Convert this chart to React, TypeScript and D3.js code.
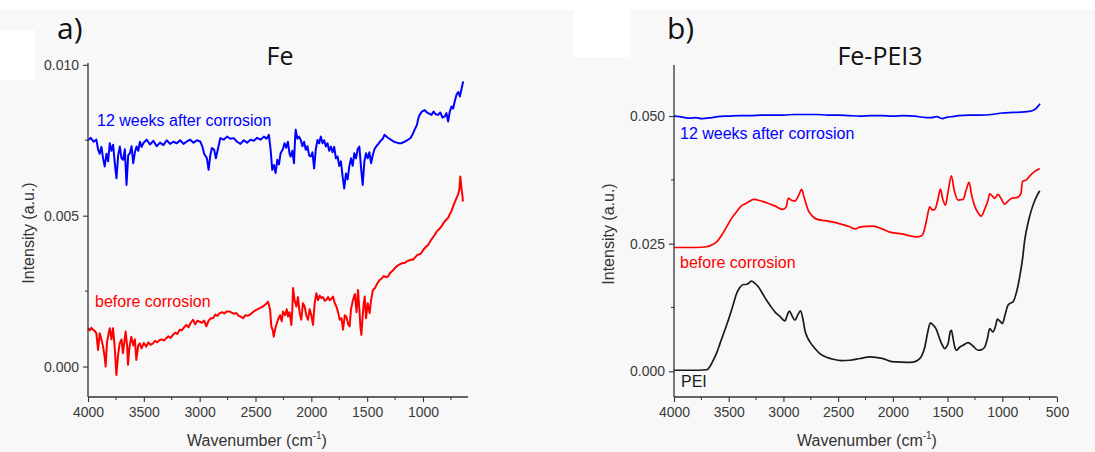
import { useEffect, useRef } from 'react';
import * as d3 from 'd3';

// Panel a) Fe — [wavenumber, intensity]
const feAfter: [number, number][] = [
  [4000, .0075], [3975, .00758], [3950, .00745], [3925, .00752], [3910, .0072], [3895, .00705],
  [3880, .00728], [3865, .0069], [3850, .00663], [3835, .00705], [3820, .0068], [3805, .0074],
  [3790, .00715], [3775, .00735], [3760, .00674], [3745, .00624], [3730, .007], [3715, .00729],
  [3700, .0069], [3685, .00685], [3670, .0072], [3655, .00602], [3640, .007], [3625, .00707],
  [3610, .0073], [3595, .00674], [3580, .0071], [3565, .00729], [3550, .00715], [3535, .00745],
  [3520, .00728], [3505, .0074], [3475, .00752], [3445, .00736], [3415, .00748], [3385, .0073],
  [3355, .00742], [3325, .00734], [3295, .0075], [3265, .00738], [3235, .00745], [3205, .0074],
  [3175, .0075], [3145, .00738], [3115, .00746], [3085, .00752], [3055, .00742], [3025, .0075],
  [2995, .00746], [2975, .00728], [2960, .00705], [2935, .0069], [2920, .00652], [2905, .007],
  [2890, .00724], [2870, .00718], [2855, .0069], [2840, .00715], [2815, .00757], [2785, .00752],
  [2755, .00762], [2725, .00755], [2695, .00757], [2665, .00745], [2635, .00738], [2605, .0075],
  [2575, .00742], [2545, .00752], [2515, .00748], [2485, .00758], [2455, .00752], [2425, .00762],
  [2400, .00755], [2380, .00768], [2365, .0072], [2350, .00652], [2335, .00668], [2320, .00641],
  [2305, .00685], [2290, .0067], [2275, .00707], [2255, .0072], [2240, .0074], [2225, .00725],
  [2210, .00745], [2195, .00705], [2185, .00696], [2170, .00715], [2155, .00674], [2145, .0076],
  [2140, .00785], [2125, .00755], [2110, .00762], [2095, .00751], [2080, .0073], [2065, .00745],
  [2050, .00718], [2035, .0073], [2020, .007], [2005, .00696], [1990, .0071], [1975, .00657],
  [1960, .0072], [1945, .00751], [1930, .0074], [1915, .00762], [1900, .0074], [1885, .0075],
  [1870, .00729], [1855, .0074], [1840, .00715], [1825, .00729], [1810, .0071], [1795, .00728],
  [1780, .0069], [1765, .00696], [1750, .00665], [1735, .0068], [1720, .0063], [1705, .0059],
  [1690, .0064], [1675, .0062], [1660, .00663], [1645, .0069], [1630, .00665], [1615, .00707],
  [1600, .0069], [1585, .0072], [1570, .00729], [1555, .0066], [1540, .00602], [1525, .0068],
  [1510, .00707], [1495, .0069], [1480, .0071], [1465, .00674], [1450, .007], [1435, .0072],
  [1420, .00729], [1400, .00738], [1380, .00748], [1360, .00755], [1345, .00768], [1320, .0076],
  [1300, .00755], [1285, .00751], [1260, .00745], [1235, .00742], [1215, .0074], [1195, .0074],
  [1165, .00745], [1135, .00751], [1110, .00758], [1090, .00772], [1075, .00785], [1055, .008],
  [1040, .00825], [1030, .00834], [1010, .00845], [985, .0085], [965, .00842], [945, .00838],
  [925, .00834], [905, .00845], [885, .00836], [865, .00834], [845, .00842], [825, .00825],
  [805, .00829], [790, .0084], [775, .00812], [760, .00845], [745, .00862], [730, .00855],
  [715, .0088], [700, .00901], [685, .0091], [670, .00895], [655, .0092], [640, .00945],
];

const feBefore: [number, number][] = [
  [4000, .00127], [3985, .0012], [3970, .00128], [3955, .00122], [3940, .00118], [3925, .0011],
  [3910, .00055], [3895, .0011], [3880, .0009], [3865, .00066], [3850, .0003], [3842, 0],
  [3830, .0008], [3815, .0011], [3805, .00127], [3790, .0009], [3776, .00127], [3760, .0006],
  [3746, -.00028], [3730, .0004], [3716, .00077], [3700, .0009], [3687, .00044], [3675, .0008],
  [3663, .00116], [3650, .0007], [3642, .00006], [3630, .0006], [3612, .00099], [3595, .0007],
  [3580, .0009], [3567, .00022], [3550, .0007], [3537, .00077], [3520, .0006], [3500, .00078],
  [3478, .00066], [3460, .0008], [3440, .00072], [3418, .00077], [3400, .00085], [3380, .0008],
  [3358, .00088], [3340, .0009], [3320, .00086], [3299, .00094], [3280, .001], [3260, .00095],
  [3239, .00105], [3220, .00112], [3200, .00108], [3179, .00122], [3160, .0012], [3140, .0013],
  [3120, .00138], [3100, .0013], [3080, .00145], [3060, .00155], [3040, .0014], [3020, .00152],
  [3000, .00149], [2980, .00145], [2960, .00152], [2940, .00133], [2920, .00152], [2900, .0016],
  [2881, .0016], [2860, .00172], [2840, .00168], [2821, .00177], [2800, .0018], [2780, .00176],
  [2760, .00182], [2731, .00182], [2710, .00178], [2690, .00175], [2672, .00177], [2650, .00168],
  [2630, .00165], [2612, .0016], [2590, .0017], [2570, .00168], [2552, .00171], [2530, .00178],
  [2510, .00184], [2493, .00188], [2470, .00192], [2450, .00196], [2433, .00199], [2415, .00205],
  [2400, .0021], [2388, .00215], [2370, .0019], [2358, .00133], [2345, .0012], [2337, .00099],
  [2320, .0013], [2299, .00155], [2280, .0017], [2265, .0015], [2254, .00182], [2235, .0017],
  [2220, .0019], [2209, .00166], [2195, .0018], [2179, .00138], [2170, .0019], [2164, .0026],
  [2150, .0022], [2134, .00199], [2120, .0023], [2105, .0018], [2090, .00155], [2075, .0021],
  [2060, .00199], [2045, .0017], [2030, .00155], [2015, .0019], [2000, .0017], [1985, .00138],
  [1970, .0021], [1955, .00243], [1940, .0022], [1925, .00235], [1910, .00227], [1895, .0023],
  [1880, .00218], [1866, .00221], [1850, .0023], [1835, .0022], [1820, .00225], [1806, .00232],
  [1790, .0021], [1776, .00199], [1760, .0018], [1746, .00155], [1730, .0016], [1716, .00122],
  [1700, .0017], [1687, .00166], [1670, .0014], [1657, .00133], [1645, .0019], [1627, .00221],
  [1610, .0024], [1595, .0018], [1582, .00254], [1570, .0019], [1560, .0013], [1552, .00105],
  [1540, .0017], [1530, .0021], [1522, .00232], [1510, .0016], [1495, .0021], [1478, .00177],
  [1465, .0022], [1448, .00254], [1430, .0026], [1410, .00275], [1388, .00287], [1370, .00292],
  [1350, .003], [1330, .00296], [1314, .00298], [1295, .0031], [1270, .00318], [1255, .00325],
  [1239, .00331], [1220, .00336], [1200, .0034], [1180, .00343], [1164, .00343], [1140, .0035],
  [1120, .00352], [1100, .00355], [1090, .00354], [1070, .00362], [1050, .0037], [1030, .00372],
  [1015, .00376], [995, .00388], [975, .00396], [955, .00403], [935, .00415], [915, .00426],
  [896, .00436], [876, .00448], [856, .00455], [836, .00464], [816, .00476], [796, .00485],
  [776, .00492], [760, .00505], [745, .00515], [731, .0053], [715, .00545], [700, .00558],
  [687, .00569], [675, .00585], [666, .0063], [655, .0059], [648, .0057], [642, .00547],
];

// Panel b) Fe-PEI3
const peiAfter: [number, number][] = [
  [4000, .05], [3950, .0499], [3900, .0497], [3850, .0496], [3800, .0497], [3750, .0495],
  [3700, .0496], [3650, .0497], [3600, .0499], [3500, .05], [3400, .0501], [3300, .0501],
  [3200, .0502], [3100, .0502], [3000, .0502], [2900, .0503], [2800, .0503], [2700, .0503],
  [2600, .0502], [2500, .0502], [2400, .0501], [2300, .05], [2200, .0501], [2100, .0501],
  [2000, .05], [1900, .0501], [1800, .05], [1700, .0497], [1650, .0497], [1600, .0499],
  [1550, .0495], [1500, .0498], [1450, .0499], [1400, .0501], [1300, .0502], [1200, .0502],
  [1100, .0503], [1000, .0506], [900, .0507], [800, .0508], [720, .0511], [690, .0515],
  [670, .052], [655, .0524],
];

const peiBefore: [number, number][] = [
  [4000, .02425], [3800, .02425], [3702, .0244], [3650, .0248], [3610, .02536], [3560, .0268],
  [3519, .0283], [3470, .0301], [3428, .03124], [3380, .0325], [3352, .03275], [3310, .0333],
  [3270, .03366], [3210, .0334], [3154, .033], [3080, .0324], [3002, .0317], [2975, .0322],
  [2956, .0339], [2925, .0335], [2895, .03333], [2860, .0345], [2834, .03562], [2810, .034],
  [2774, .03157], [2740, .0305], [2697, .0298], [2620, .0295], [2545, .02922], [2470, .0288],
  [2393, .0283], [2347, .0279], [2302, .02824], [2240, .0284], [2180, .02843], [2100, .0279],
  [2028, .02725], [1950, .027], [1906, .02686], [1840, .0265], [1784, .02634], [1740, .0265],
  [1715, .0275], [1690, .0298], [1663, .03222], [1640, .0316], [1617, .0317], [1590, .0335],
  [1565, .03569], [1545, .0338], [1520, .03255], [1495, .0352], [1465, .0383], [1440, .0355],
  [1404, .03353], [1380, .0336], [1358, .03366], [1330, .0355], [1303, .037], [1280, .0345],
  [1252, .03235], [1220, .031], [1191, .03039], [1160, .0318], [1130, .0335], [1115, .03477],
  [1090, .0343], [1069, .03386], [1039, .03464], [1010, .0338], [978, .03275], [950, .0333],
  [917, .03386], [880, .034], [856, .03412], [830, .0348], [815, .0372], [780, .0375],
  [750, .03824], [700, .0392], [658, .03974],
];

const peiRef: [number, number][] = [
  [4000, .0002], [3850, .0002], [3702, .0003], [3670, .001], [3641, .00216], [3610, .0036],
  [3580, .00542], [3540, .0078], [3504, .01], [3460, .013], [3428, .01523], [3395, .0165],
  [3367, .017], [3340, .017], [3321, .0172], [3291, .01765], [3260, .0172], [3230, .01654],
  [3190, .0152], [3154, .01392], [3115, .0127], [3078, .01163], [3030, .0107], [2987, .00987],
  [2965, .011], [2945, .0118], [2920, .0108], [2895, .01], [2870, .011], [2843, .01183],
  [2820, .01], [2804, .00804], [2780, .0066], [2758, .00575], [2710, .0044], [2667, .00346],
  [2600, .0027], [2545, .00235], [2470, .0021], [2393, .00216], [2300, .0025], [2210, .00281],
  [2150, .0027], [2089, .00248], [2030, .002], [1967, .00183], [1880, .00175], [1815, .0018],
  [1754, .00248], [1730, .0033], [1708, .00477], [1680, .0078], [1657, .00948], [1630, .009],
  [1602, .00817], [1570, .0062], [1545, .005], [1526, .00444], [1510, .0048], [1495, .00542],
  [1475, .0078], [1465, .00804], [1450, .0065], [1435, .0048], [1419, .00412], [1390, .0047],
  [1358, .0051], [1313, .00562], [1270, .005], [1221, .00412], [1190, .0042], [1160, .00477],
  [1135, .0065], [1115, .00837], [1085, .00771], [1060, .009], [1045, .0102], [1020, .0098],
  [999, .00935], [975, .011], [948, .01294], [920, .0134], [902, .0136], [870, .0155],
  [841, .0185], [815, .022], [795, .02569], [760, .0295], [734, .03157], [700, .0336],
  [658, .03536],
];

const xTicksA = [4000, 3500, 3000, 2500, 2000, 1500, 1000];
const xTicksB = [4000, 3500, 3000, 2500, 2000, 1500, 1000, 500];
const yTicksA = [0, 0.005, 0.01];
const yTicksB = [0, 0.025, 0.05];

const AXIS = '#333';
const FONT = 'Arial, "Liberation Sans", sans-serif';
const TITLE_FONT = '"Open Sans", "Noto Sans", sans-serif';

type Series = { data: [number, number][]; color: string; label: string; lx: number; ly: number };

function drawPanel(
  root: d3.Selection<SVGGElement, unknown, null, undefined>,
  p: {
    left: number; right: number; top: number; bottom: number;
    xDomain: [number, number]; yDomain: [number, number];
    xTicks: number[]; yTicks: number[]; yMinor: number[];
    title: string; titleX: number; tag: string; tagX: number;
    yLabelX: number; xLabelX: number; smooth: boolean;
    series: Series[];
  }
) {
  const x = d3.scaleLinear().domain(p.xDomain).range([p.left, p.right]);
  const y = d3.scaleLinear().domain(p.yDomain).range([p.bottom, p.top]);
  const g = root.append('g');

  // curves
  const line = d3.line<[number, number]>()
    .x(d => x(d[0]))
    .y(d => y(d[1]))
    .curve(p.smooth ? d3.curveMonotoneX : d3.curveLinear);

  p.series.forEach(s => {
    g.append('path')
      .datum(s.data)
      .attr('fill', 'none')
      .attr('stroke', s.color)
      .attr('stroke-width', p.smooth ? 1.7 : 2)
      .attr('stroke-linejoin', 'round')
      .attr('d', line);
    g.append('text')
      .attr('x', s.lx).attr('y', s.ly)
      .attr('fill', s.color)
      .attr('font-family', FONT)
      .attr('font-size', 16)
      .text(s.label);
  });

  // axes
  const xMinor = d3.range(p.xDomain[0] - 250, p.xDomain[1], -500).filter(v => v > p.xDomain[1]);
  const xAxis = g.append('g').attr('transform', `translate(0,${p.bottom})`);
  xAxis.call(d3.axisBottom(x).tickValues(p.xTicks).tickSize(5).tickPadding(5).tickFormat(d3.format('d')));
  xAxis.append('g').selectAll('line').data(xMinor).join('line')
    .attr('x1', d => x(d)).attr('x2', d => x(d)).attr('y1', 0).attr('y2', 3).attr('stroke', AXIS);

  const yAxis = g.append('g').attr('transform', `translate(${p.left},0)`);
  yAxis.call(d3.axisLeft(y).tickValues(p.yTicks).tickSize(5).tickPadding(4).tickFormat(d3.format('.3f')));
  yAxis.append('g').selectAll('line').data(p.yMinor).join('line')
    .attr('y1', d => y(d)).attr('y2', d => y(d)).attr('x1', 0).attr('x2', -3).attr('stroke', AXIS);

  [xAxis, yAxis].forEach(a => {
    a.select('.domain').attr('stroke', AXIS).attr('stroke-width', 1.3)
      .attr('d', a === xAxis ? `M${p.left},0H${p.right}` : `M0,${p.top}V${p.bottom}`);
    a.selectAll('.tick line').attr('stroke', AXIS).attr('stroke-width', 1.1);
    a.selectAll('.tick text').attr('fill', '#3a3a3a').attr('font-size', 14).attr('font-family', FONT);
  });

  // titles
  g.append('text')
    .attr('transform', `translate(${p.yLabelX},${(p.top + p.bottom) / 2 + 3}) rotate(-90)`)
    .attr('text-anchor', 'middle')
    .attr('fill', '#333').attr('font-size', 16).attr('font-family', FONT)
    .text('Intensity (a.u.)');

  const xl = g.append('text')
    .attr('x', p.xLabelX).attr('y', 446)
    .attr('text-anchor', 'middle')
    .attr('fill', '#333').attr('font-size', 16).attr('font-family', FONT);
  xl.append('tspan').text('Wavenumber (cm');
  xl.append('tspan').attr('font-size', 10).attr('dy', -7).text('-1');
  xl.append('tspan').attr('dy', 7).text(')');

  g.append('text')
    .attr('x', p.titleX).attr('y', 65)
    .attr('text-anchor', 'middle')
    .attr('fill', '#111').attr('font-size', 25).attr('font-family', TITLE_FONT)
    .text(p.title);

  g.append('text')
    .attr('x', p.tagX).attr('y', 39)
    .attr('fill', '#111').attr('font-size', 30).attr('font-family', TITLE_FONT)
    .text(p.tag);
}

export default function App() {
  const svgRef = useRef<SVGSVGElement>(null);

  useEffect(() => {
    const svg = d3.select(svgRef.current);
    svg.selectAll('*').remove();

    // background
    svg.append('rect').attr('width', 1095).attr('height', 452).attr('fill', '#fff');
    svg.append('rect').attr('y', 10).attr('width', 1095).attr('height', 442).attr('fill', '#f8f8f8');
    svg.append('rect').attr('x', 0).attr('y', 30).attr('width', 35).attr('height', 50).attr('fill', '#fff');
    svg.append('rect').attr('x', 573).attr('y', 10).attr('width', 57).attr('height', 47).attr('fill', '#fff');

    const root = svg.append('g') as unknown as d3.Selection<SVGGElement, unknown, null, undefined>;

    drawPanel(root, {
      left: 88, right: 468, top: 63, bottom: 397,
      xDomain: [4000, 597], yDomain: [-0.00101, 0.01006],
      xTicks: xTicksA, yTicks: yTicksA, yMinor: [0.0025, 0.0075],
      title: 'Fe', titleX: 280, tag: 'a)', tagX: 57,
      yLabelX: 34, xLabelX: 257, smooth: false,
      series: [
        { data: feAfter, color: '#0000ff', label: '12 weeks after corrosion', lx: 97, ly: 126 },
        { data: feBefore, color: '#ff0000', label: 'before corrosion', lx: 95, ly: 307 },
      ],
    });

    drawPanel(root, {
      left: 674, right: 1057, top: 65, bottom: 397,
      xDomain: [4000, 500], yDomain: [-0.00504, 0.06],
      xTicks: xTicksB, yTicks: yTicksB, yMinor: [0.0125, 0.0375],
      title: 'Fe-PEI3', titleX: 880, tag: 'b)', tagX: 667,
      yLabelX: 614, xLabelX: 867, smooth: true,
      series: [
        { data: peiAfter, color: '#0000ff', label: '12 weeks after corrosion', lx: 680, ly: 139 },
        { data: peiBefore, color: '#ff0000', label: 'before corrosion', lx: 680, ly: 268 },
        { data: peiRef, color: '#1a1a1a', label: 'PEI', lx: 681, ly: 387 },
      ],
    });
  }, []);

  return (
    <svg
      ref={svgRef}
      width={1095}
      height={452}
      style={{ position: 'absolute', left: 0, top: 0 }}
    />
  );
}
